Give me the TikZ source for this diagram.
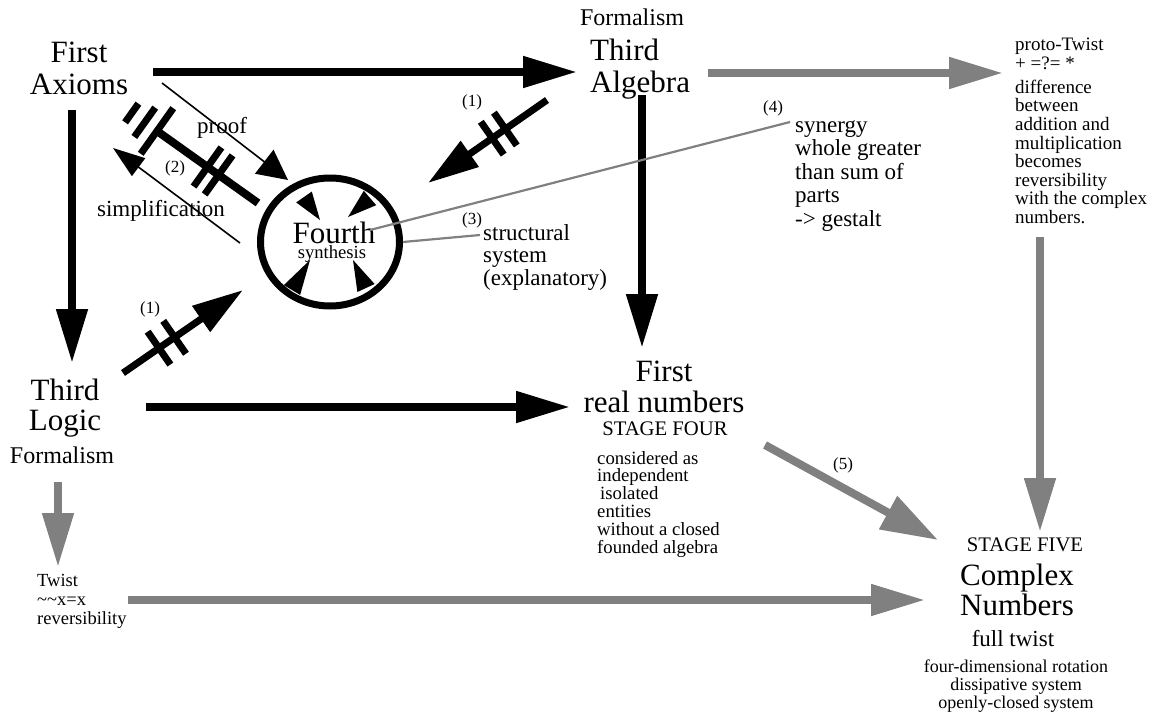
\documentclass[tikz,border=0pt]{standalone}
\usepackage{fontspec}
\setmainfont{Liberation Serif}
\usetikzlibrary{arrows.meta,calc,shapes.geometric}
\definecolor{ash}{RGB}{128,128,128}
\newcommand\fsz[2]{\fontsize{#1}{#2}\selectfont}
\tikzset{
  txt/.style={inner sep=0pt,align=center},
  heavy/.style={line width=8pt,-{Triangle[length=54pt,width=30pt]}},
  crossed/.style={line width=7pt,-{Triangle[length=51pt,width=30pt]}},
  bar/.style={line width=7pt},
  thinarrow/.style={line width=1.6pt},
  pointer/.style={ash,line width=2.2pt},
  tag/.style={inner sep=0pt,font=\fsz{17}{17}}
}

\begin{document}
\begin{tikzpicture}[x=1pt,y=-1pt]
        \useasboundingbox (0,0) rectangle (1151,717);
        \node[txt,anchor=north,font=\fsz{31}{32}] (ax) at (79,42) {First\\Axioms};
        \node[txt,anchor=north,font=\fsz{24}{24}] (algf) at (632,9) {Formalism};
        \node[txt,align=left,anchor=north west,font=\fsz{31}{32}] (alg) at (590,39) {Third\\Algebra};
        \node[txt,anchor=north,font=\fsz{31}{30}] (lg) at (65,379) {Third\\Logic};
        \node[txt,anchor=north,font=\fsz{24}{24}] (lgf) at (62,447) {Formalism};
        \node[txt,anchor=north,font=\fsz{31}{31}] (real) at (664,361) {First\\real numbers};
        \node[txt,anchor=north,font=\fsz{20.7}{21}] (stfour) at (665,422) {STAGE FOUR};
        \node[txt,align=left,anchor=north west,font=\fsz{18.7}{17.8}] (realtxt) at (597,451)
          {considered as\\independent\\\hspace*{3pt}isolated\\entities\\without a closed\\founded algebra};
        \node[txt,anchor=north,font=\fsz{20.7}{21}] (stfive) at (1025,538) {STAGE FIVE};
        \node[txt,anchor=north,font=\fsz{31}{30}] (cplx) at (1017,564) {Complex\\Numbers};
        \node[txt,anchor=north,font=\fsz{23}{23}] (full) at (1013,630) {full twist};
        \node[txt,anchor=north,font=\fsz{18}{18}] (cplxtxt) at (1016,660)
          {four-dimensional rotation\\dissipative system\\openly-closed system};
        \node[txt,align=left,anchor=north west,font=\fsz{19}{18.6}] (proto) at (1015,38)
          {proto-Twist\\+ =?= *\\[5.4pt]difference\\between\\addition and\\multiplication\\becomes\\reversibility\\with the complex\\numbers.};
        \node[txt,align=left,anchor=north west,font=\fsz{18.5}{19}] (twist) at (37,574)
          {Twist\\\textasciitilde\textasciitilde x=x\\reversibility};
        \node[txt,align=left,anchor=north west,font=\fsz{23}{23.5}] (syn) at (795,120)
          {synergy\\whole greater\\than sum of\\parts\\-> gestalt};
        \node[txt,align=left,anchor=north west,font=\fsz{23}{22.5}] (struct) at (483,224)
          {structural\\system\\(explanatory)};
        \node[ellipse,draw,line width=7pt,minimum width=139pt,minimum height=128pt,inner sep=0pt] (four) at (330,242) {};
        \node[txt,anchor=north,font=\fsz{31}{31}] (fourt) at (334,222) {Fourth};
        \node[txt,anchor=north,font=\fsz{18.6}{18.6}] (synth) at (332,245) {synthesis};
        \node[txt,anchor=north,font=\fsz{23}{23}] (proof) at (222,117) {proof};
        \node[txt,anchor=north,font=\fsz{23}{23}] (simpl) at (161,200) {simplification};
        \foreach \t/\x/\y in {1/472/102, 1/150/309, 2/175/168, 3/472/220, 4/773/108, 5/843/465}
          \node[tag] (tag\x) at (\x,\y) {(\t)};
        \coordinate (ax-e) at (153,72);
        \coordinate (alg-w) at (577,72);
        \coordinate (ax-s) at (72,110);
        \coordinate (lg-n) at (72,363);
        \coordinate (alg-s) at (642,95);
        \coordinate (real-n) at (642,348);
        \coordinate (lg-e) at (146,407);
        \coordinate (real-w) at (570,407);
        \draw[heavy] (ax-e) -- (alg-w);
        \draw[heavy] (ax-s) -- (lg-n);
        \draw[heavy] (alg-s) -- (real-n);
        \draw[heavy] (lg-e) -- (real-w);
        \coordinate (alg-sw) at (547,100);
        \coordinate (four-ne) at (428,183);
        \coordinate (lg-ne) at (123,373);
        \coordinate (four-sw) at (243,290);
        \draw[crossed] (alg-sw) -- (four-ne) coordinate[pos=.35] (m1) coordinate[pos=.46] (m2);
        \draw[crossed] (lg-ne) -- (four-sw) coordinate[pos=.30] (m3) coordinate[pos=.43] (m4);
        \foreach \m/\e in {m1/four-ne, m2/four-ne, m3/four-sw, m4/four-sw}
          \draw[bar] ($(\m)!20pt!90:(\e)$) -- ($(\m)!20pt!-90:(\e)$);
        \coordinate (ax-se) at (157,131);
        \coordinate (four-nw) at (258,203);
        \draw[line width=8pt] (ax-se) -- (four-nw) coordinate[pos=.5] (m5) coordinate[pos=.61] (m6);
        \coordinate (m7) at ($(ax-se)!-15pt!(four-nw)$);
        \coordinate (m8) at ($(ax-se)!-31pt!(four-nw)$);
        \foreach \m/\h in {ax-se/28pt, m7/18pt, m8/11.5pt, m5/24pt, m6/24pt}
          \draw[bar] ($(\m)!\h!90:(four-nw)$) -- ($(\m)!\h!-90:(four-nw)$);
        \coordinate (ax-p) at (162,83);
        \coordinate (four-p) at (288,180);
        \coordinate (four-q) at (240,243);
        \coordinate (ax-q) at (113,148);
        \draw[thinarrow,-{Triangle[length=30pt,width=30pt]}] (ax-p) -- (four-p);
        \draw[thinarrow,-{Triangle[length=32pt,width=22pt]}] (four-q) -- (ax-q);
        \foreach \bx/\by/\tx/\ty in {304/197/320/220, 370/198/348/217, 292/290/310/260, 366/288/353/260}
          \fill ($(\bx,\by)!9.5pt!90:(\tx,\ty)$) -- ($(\bx,\by)!9.5pt!-90:(\tx,\ty)$) -- (\tx,\ty) -- cycle;
        \coordinate (alg-e) at (708,73);
        \coordinate (proto-w) at (1003,73);
        \coordinate (proto-s) at (1040,237);
        \coordinate (cplx-n) at (1040,532);
        \coordinate (real-se) at (765,445);
        \coordinate (cplx-nw) at (938,540);
        \coordinate (lgf-s) at (58,482);
        \coordinate (twist-n) at (58,567);
        \coordinate (twist-e) at (128,600);
        \coordinate (cplx-w) at (925,600);
        \draw[heavy,ash] (alg-e) -- (proto-w);
        \draw[heavy,ash] (proto-s) -- (cplx-n);
        \draw[heavy,ash,-{Triangle[length=57pt,width=36pt]}] (real-se) -- (cplx-nw);
        \draw[heavy,ash] (lgf-s) -- (twist-n);
        \draw[heavy,ash] (twist-e) -- (cplx-w);
        \coordinate (fourt-e) at (370,230);
        \coordinate (syn-w) at (790,122);
        \coordinate (struct-w) at (480,235);
        \draw[pointer] (fourt-e) -- (syn-w);
        \draw[pointer] (four.east) -- (struct-w);
      \end{tikzpicture}
\end{document}
